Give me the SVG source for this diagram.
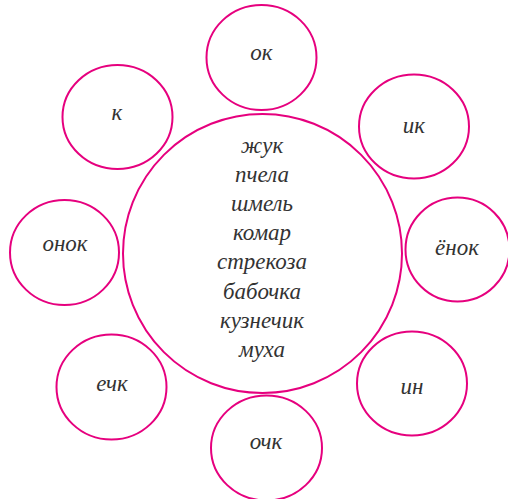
<svg xmlns="http://www.w3.org/2000/svg" width="508" height="499" viewBox="0 0 508 499">
<style>
.c{fill:none;stroke:#E6007E;stroke-width:2}
.t{font-family:"Liberation Serif","DejaVu Serif",serif;font-style:italic;font-size:23px;fill:#333;text-anchor:middle}
</style>
<rect width="508" height="499" fill="#fff"/>
<g id="connectors"/>
<g id="center">
<circle class="c" cx="262.5" cy="253.5" r="139.5"/>
<text class="t" x="262" y="153">жук</text>
<text class="t" x="262" y="182">пчела</text>
<text class="t" x="262" y="211">шмель</text>
<text class="t" x="262" y="240">комар</text>
<text class="t" x="262" y="269">стрекоза</text>
<text class="t" x="262" y="299">бабочка</text>
<text class="t" x="262" y="328">кузнечик</text>
<text class="t" x="262" y="357">муха</text>
</g>
<g id="n-ok"><ellipse class="c" cx="261.5" cy="57.5" rx="55" ry="52.5"/><text class="t" x="261.5" y="60">ок</text></g>
<g id="n-ik"><ellipse class="c" cx="414" cy="126.5" rx="55" ry="52"/><text class="t" x="414" y="133">ик</text></g>
<g id="n-yonok"><ellipse class="c" cx="457.5" cy="249.5" rx="52" ry="52"/><text class="t" x="457" y="255">ёнок</text></g>
<g id="n-in"><ellipse class="c" cx="412" cy="383.5" rx="55" ry="52"/><text class="t" x="412" y="394">ин</text></g>
<g id="n-ochk"><ellipse class="c" cx="266.5" cy="448" rx="55.5" ry="52.5"/><text class="t" x="266" y="449">очк</text></g>
<g id="n-echk"><ellipse class="c" cx="111.5" cy="387" rx="55" ry="52.5"/><text class="t" x="112" y="391">ечк</text></g>
<g id="n-onok"><ellipse class="c" cx="64.5" cy="252.5" rx="54.5" ry="52.5"/><text class="t" x="65" y="251">онок</text></g>
<g id="n-k"><ellipse class="c" cx="117.5" cy="117" rx="55" ry="52"/><text class="t" x="117" y="120">к</text></g>
</svg>
